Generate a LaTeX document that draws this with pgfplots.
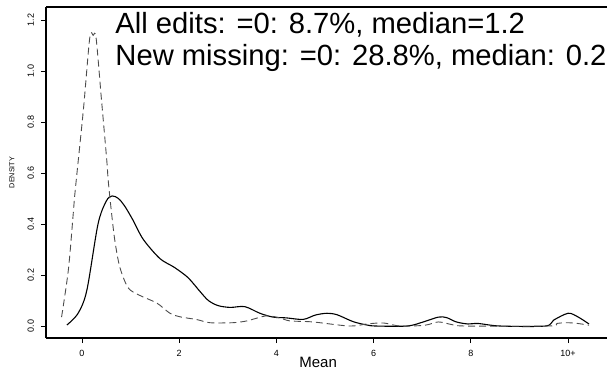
\documentclass[border=0pt]{standalone}
\usepackage{pgfplots}
\pgfplotsset{compat=1.18}
\usepackage{fontspec}
\setmainfont{Liberation Sans}
\begin{document}
\begin{tikzpicture}
\begin{axis}[
  scale only axis,
  width=280.5pt, height=165.5pt,
  xmin=-0.74, xmax=10.8,
  ymin=-0.047, ymax=1.251,
  axis lines*=left,
  axis line style={line width=0.6pt},
  tick align=outside,
  major tick length=2.5pt,
  tick style={black, line width=0.4pt},
  xtick={0,2,4,6,8,10},
  xticklabels={0,2,4,6,8,10+},
  ytick={0,0.2,0.4,0.6,0.8,1.0,1.2},
  yticklabels={0.0,0.2,0.4,0.6,0.8,1.0,1.2},
  /pgf/number format/assume math mode=true,
  tick label style={font=\fontsize{4.5}{5}\selectfont},
  yticklabel style={rotate=90, anchor=south, xshift=0pt},
  clip=false,
]
\addplot[black, line width=0.55pt, smooth] coordinates {
(-0.31,0.004) (-0.08,0.05) (0.1,0.14) (0.33,0.40) (0.5,0.49) (0.62,0.51)
(0.75,0.50) (0.88,0.47) (1.05,0.415) (1.26,0.34) (1.6,0.265) (1.9,0.23)
(2.18,0.19) (2.43,0.135) (2.6,0.10) (2.8,0.08) (3.05,0.073) (3.35,0.076)
(3.66,0.05) (3.93,0.035) (4.2,0.032) (4.55,0.026) (4.8,0.043) (5.04,0.05)
(5.25,0.044) (5.58,0.017) (5.86,0.004) (6.05,0.0) (6.69,0.0) (7.02,0.016)
(7.33,0.035) (7.5,0.033) (7.7,0.016) (7.94,0.008) (8.15,0.01) (8.6,0.0)
(9.53,0.0) (9.7,0.023) (10.0,0.05) (10.2,0.036) (10.43,0.008)
};
\addplot[gray!60!black, line width=0.45pt, dash pattern=on 3.5pt off 2pt, smooth] coordinates {
(-0.42,0.035) (-0.28,0.22) (-0.18,0.44) (-0.14,0.53) (0.03,0.85) (0.16,1.13)
(0.23,1.14) (0.29,1.13) (0.4,0.89) (0.51,0.65) (0.54,0.57) (0.61,0.44)
(0.68,0.33) (0.78,0.23) (0.95,0.15) (1.19,0.12) (1.54,0.09) (1.81,0.05)
(2.02,0.036) (2.37,0.025) (2.63,0.013) (3.1,0.013) (3.39,0.02) (3.8,0.04)
(4.1,0.03) (4.28,0.02) (4.75,0.016) (5.5,0.0) (5.86,0.008) (6.2,0.012)
(6.54,0.0) (7.05,0.003) (7.33,0.016) (7.6,0.006) (7.9,0.0) (9.6,0.0)
(9.77,0.01) (9.97,0.013) (10.2,0.01) (10.43,0.003)
};
\draw[line width=0.6pt] (rel axis cs:0,1) -- (rel axis cs:1,1);
\node[anchor=base west, inner sep=0pt, font=\fontsize{14.6}{15}\selectfont] at (axis cs:0.68,1.149) {All edits: =0: 8.7\%, median=1.2};
\node[anchor=base west, inner sep=0pt, font=\fontsize{14.6}{15}\selectfont] at (axis cs:0.68,1.02) {New missing: =0: 28.8\%, median: 0.2};
\node[anchor=base, inner sep=0pt, font=\fontsize{7.5}{8}\selectfont] at ([yshift=-14.8pt]rel axis cs:0.485,0) {Mean};
\node[rotate=90, anchor=center, inner sep=0pt, font=\fontsize{3.6}{4}\selectfont] at ([xshift=-17pt]rel axis cs:0,0.5) {DENSITY};
\coordinate (sw) at (rel axis cs:0,0);
\coordinate (ne) at (rel axis cs:1,1);
\end{axis}
\pgfresetboundingbox
\path ([shift={(-23pt,-16pt)}]sw) rectangle ([shift={(0pt,3.5pt)}]ne);
\end{tikzpicture}
\end{document}
